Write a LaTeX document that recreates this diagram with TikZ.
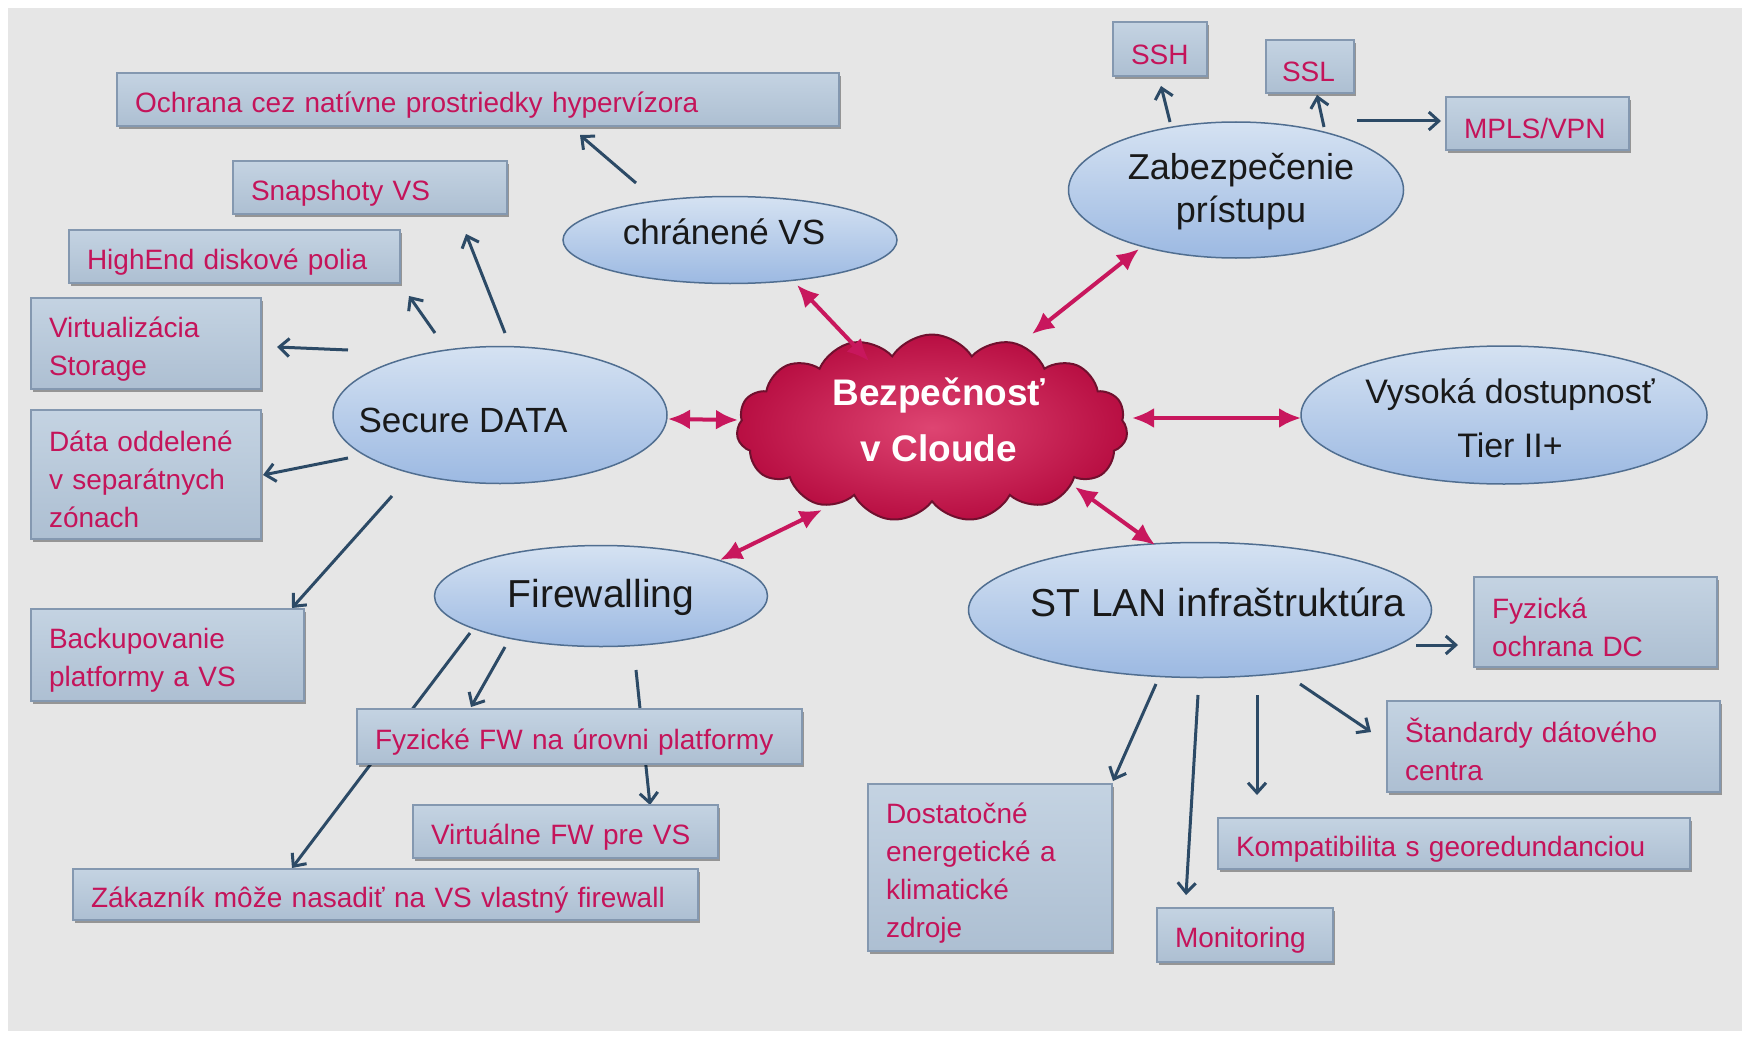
\documentclass[tikz,border=0pt]{standalone}
\usepackage{fontspec}
\setmainfont{Liberation Sans}
\usetikzlibrary{shapes.geometric,shapes.symbols,arrows.meta,shadows,calc}
\pgfdeclarelayer{bg}
\pgfsetlayers{bg,main}
\definecolor{bgc}{HTML}{E6E6E6}
\definecolor{boxtop}{HTML}{C4D3E2}
\definecolor{boxbot}{HTML}{ADBFD2}
\definecolor{boxline}{HTML}{8498B0}
\definecolor{elltop}{HTML}{D5E2F2}
\definecolor{ellbot}{HTML}{9CB9E2}
\definecolor{ellline}{HTML}{506E90}
\definecolor{txtred}{HTML}{C4145A}
\definecolor{arrblue}{HTML}{2C4A66}
\definecolor{magc}{HTML}{C8175D}
\definecolor{cloudin}{HTML}{DE4572}
\definecolor{cloudout}{HTML}{B80E42}
\definecolor{cloudline}{HTML}{70102E}
\begin{document}
\begin{tikzpicture}[x=1pt,y=-1pt,
  box/.style={draw=boxline, line width=1.5pt, top color=boxtop, bottom color=boxbot,
    drop shadow={shadow xshift=2pt, shadow yshift=-3pt, opacity=0.35, fill=black},
    inner xsep=18pt, inner ysep=0pt, align=left, text=txtred,
    font=\fontsize{28}{38}\selectfont, execute at begin node={\rule{0pt}{31pt}}},
  ell/.style={ellipse, draw=ellline, line width=1.5pt, top color=elltop, bottom color=ellbot, inner sep=0pt},
  elltxt/.style={align=center, text=black!90, inner sep=0pt},
  blu/.style={draw=arrblue, line width=3pt, -{Straight Barb[length=10pt,width=18pt]}},
  mag/.style={draw=magc, line width=4pt, {Latex[length=22pt,width=20pt]}-{Latex[length=22pt,width=20pt]}}
]
\useasboundingbox (0,0) rectangle (1742,1038);
\begin{pgfonlayer}{bg}
\fill[white] (0,0) rectangle (1742,1038);
\fill[bgc] (8,8) rectangle (1742,1031);
\end{pgfonlayer}

% boxes
\node[box, text width=686pt, minimum height=53pt] (ochr) at (478,99.5) {Ochrana cez natívne prostriedky hypervízora};
\node[box, text width=238pt, minimum height=53pt] (snap) at (370,187.5) {Snapshoty VS};
\node[box, text width=295pt, minimum height=53pt] (high) at (234.5,256.5) {HighEnd diskové polia};
\node[box, text width=194pt, minimum height=91pt] (virt) at (146,343.5) {Virtualizácia\\Storage};
\node[box, text width=194pt, minimum height=129pt] (data) at (146,474.5) {Dáta oddelené\\v separátnych\\zónach};
\node[box, text width=237pt, minimum height=92pt] (back) at (167.5,655) {Backupovanie\\platformy a VS};
\node[box, text width=409pt, minimum height=55pt] (fyzfw) at (579.5,736.5) {Fyzické FW na úrovni platformy};
\node[box, text width=269pt, minimum height=53pt] (virfw) at (565.5,831.5) {Virtuálne FW pre VS};
\node[box, text width=589pt, minimum height=51pt] (zak) at (385.5,894.5) {Zákazník môže nasadiť na VS vlastný firewall};
\node[box, text width=58pt, minimum height=54pt] (ssh) at (1160,49) {SSH};
\node[box, text width=56pt, inner xsep=16pt, minimum height=53pt] (ssl) at (1310,66.5) {SSL};
\node[box, text width=147pt, minimum height=53pt] (mpls) at (1537.5,123.5) {MPLS/VPN};
\node[box, text width=207pt, minimum height=90pt] (fyzoch) at (1595.5,622) {Fyzická\\ochrana DC};
\node[box, text width=297pt, minimum height=91pt] (stand) at (1553.5,746.5) {Štandardy dátového\\centra};
\node[box, text width=436pt, minimum height=51pt] (komp) at (1454,843.5) {Kompatibilita s georedundanciou};
\node[box, text width=208pt, minimum height=167pt] (dost) at (990,867.5) {Dostatočné\\energetické a\\klimatické\\zdroje};
\node[box, text width=140pt, minimum height=54pt] (moni) at (1245,935) {Monitoring};

% ellipses
\node[ell, minimum width=334pt, minimum height=87pt] (chr) at (730,240) {};
\node[ell, minimum width=335pt, minimum height=136pt] (zab) at (1236,190) {};
\node[ell, minimum width=334pt, minimum height=137pt] (sec) at (500,415) {};
\node[ell, minimum width=406pt, minimum height=138pt] (vys) at (1504,415) {};
\node[ell, minimum width=333pt, minimum height=101pt] (fw) at (601,596) {};
\node[ell, minimum width=463pt, minimum height=135pt] (stlan) at (1200,610) {};

\node[elltxt, font=\fontsize{35}{42}\selectfont] (chrT) at (724,232) {chránené VS};
\node[elltxt, font=\fontsize{36}{43}\selectfont] (zabT) at (1241,192) {Zabezpečenie\\prístupu};
\node[elltxt, font=\fontsize{35}{42}\selectfont] (secT) at (463,420) {Secure DATA};
\node[elltxt, font=\fontsize{34}{54}\selectfont] (vysT) at (1510,418) {Vysoká dostupnosť\\Tier II+};
\node[elltxt, font=\fontsize{39}{46}\selectfont] (fwT) at (601,597) {Firewalling};
\node[elltxt, font=\fontsize{39}{46}\selectfont] (stlanT) at (1218,602) {ST LAN infraštruktúra};

% cloud
\node[cloud, cloud puffs=15, cloud puff arc=115, cloud ignores aspect, minimum width=391pt, minimum height=187pt,
      draw=cloudline, line width=2pt, inner color=cloudin, outer color=cloudout] (cloud) at (932,428) {};
\node[align=center, text=white, inner sep=0pt, font=\bfseries\fontsize{37}{56}\selectfont] (cloudT) at (939,420) {Bezpečnosť\\v Cloude};

% blue connectors (under the boxes)
\begin{pgfonlayer}{bg}
\draw[blu] ($(chr)+(-94,-57)$) -- ($(ochr)+(102,35.5)$);
\draw[blu] ($(sec)+(5,-82)$) -- ($(snap)+(96,46.5)$);
\draw[blu] ($(sec)+(-65,-82)$) -- ($(high)+(174.5,39.5)$);
\draw[blu] ($(sec)+(-152,-65)$) -- ($(virt)+(131,3.5)$);
\draw[blu] ($(sec)+(-152,43)$) -- ($(data)+(117,0.5)$);
\draw[blu] ($(sec)+(-108,81)$) -- ($(back)+(124.5,-47)$);
\draw[blu] ($(fw)+(-96,51)$) -- ($(fyzfw)+(-108.5,-29.5)$);
\draw[blu] ($(fw)+(-131,37)$) -- ($(zak)+(-93.5,-26.5)$);
\draw[blu] ($(fw)+(35,74)$) -- ($(virfw)+(84.5,-26.5)$);
\draw[blu] ($(zab)+(-66,-68)$) -- ($(ssh)+(1,37)$);
\draw[blu] ($(zab)+(88,-63)$) -- ($(ssl)+(7,28.5)$);
\draw[blu] ($(zab)+(121,-69)$) -- ($(mpls)+(-96.5,-2.5)$);
\draw[blu] ($(stlan)+(216,35)$) -- ($(fyzoch)+(-137.5,23)$);
\draw[blu] ($(stlan)+(-44,74)$) -- ($(dost)+(123,-86.5)$);
\draw[blu] ($(stlan)+(-2,85)$) -- ($(moni)+(-59,-40)$);
\draw[blu] ($(stlan)+(57,85)$) -- ($(komp)+(-197,-48.5)$);
\draw[blu] ($(stlan)+(100,74)$) -- ($(stand)+(-182.5,-14.5)$);
\end{pgfonlayer}

% magenta double arrows
\draw[mag] ($(chr)+(67,45)$) -- ($(cloud)+(-63,-67)$);
\draw[mag] ($(zab)+(-97,59)$) -- ($(cloud)+(100,-94)$);
\draw[mag] ($(sec)+(168,4)$) -- ($(cloud)+(-194,-8)$);
\draw[mag] ($(cloud)+(200,-10)$) -- ($(vys)+(-203,3)$);
\draw[mag] ($(fw)+(119,-36)$) -- ($(cloud)+(-110,82)$);
\draw[mag] ($(cloud)+(143,59)$) -- ($(stlan)+(-45,-65)$);
\end{tikzpicture}
\end{document}
